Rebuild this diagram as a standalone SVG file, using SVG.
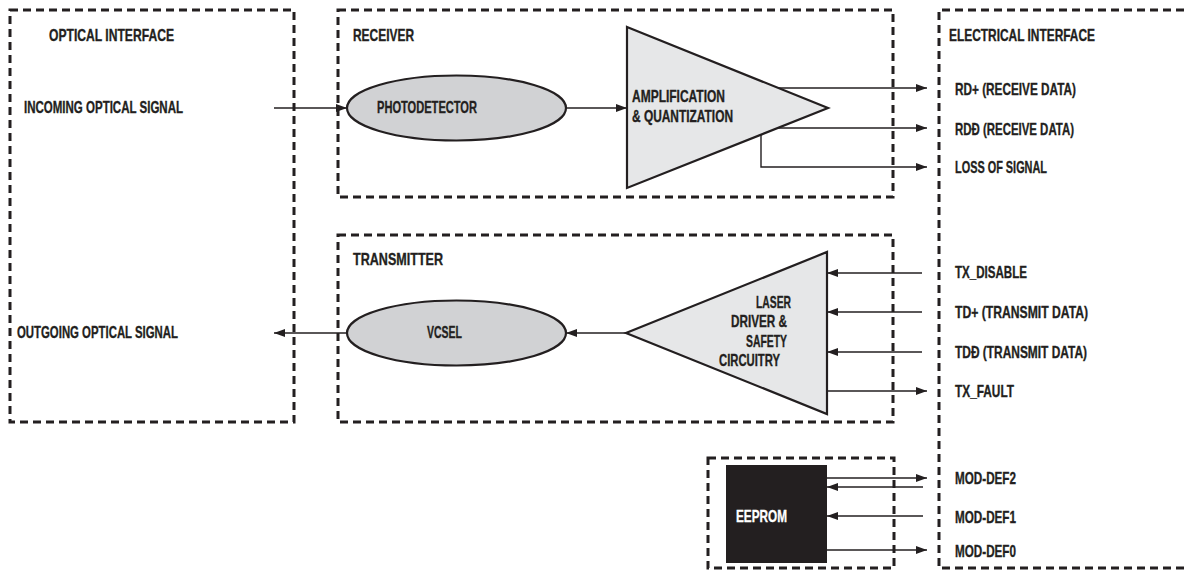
<svg xmlns="http://www.w3.org/2000/svg" width="1184" height="574" viewBox="0 0 1184 574">
<style>
.box{fill:none;stroke:#231f20;stroke-width:3;stroke-dasharray:8 5}
.shape{stroke:#231f20;stroke-width:2.2}
.ell{fill:#d1d2d4}
.tri{fill:#e6e7e8}
.ln{fill:none;stroke:#231f20;stroke-width:1.4}
.arr{marker-end:url(#ah)}
text{font-family:"Liberation Sans",Arial,sans-serif;font-weight:bold;font-size:16.5px;fill:#231f20;stroke:#231f20;stroke-width:0.35}
text.w{fill:#ffffff;stroke:#ffffff}
</style>
<defs>
<marker id="ah" markerUnits="userSpaceOnUse" markerWidth="11" markerHeight="8" refX="11" refY="4" orient="auto">
<path d="M0,0 L11,4 L0,8 z" fill="#231f20"/>
</marker>
</defs>
<rect width="1184" height="574" fill="#ffffff"/>

<g id="optical-interface">
<rect class="box" x="10" y="10" width="284" height="412"/>
<text x="49" y="41" textLength="125" lengthAdjust="spacingAndGlyphs">OPTICAL INTERFACE</text>
<text x="24" y="113" textLength="159" lengthAdjust="spacingAndGlyphs">INCOMING OPTICAL SIGNAL</text>
<text x="17" y="338" textLength="161" lengthAdjust="spacingAndGlyphs">OUTGOING OPTICAL SIGNAL</text>
</g>

<g id="receiver">
<rect class="box" x="338" y="10" width="555" height="187"/>
<text x="353" y="41" textLength="61" lengthAdjust="spacingAndGlyphs">RECEIVER</text>
</g>

<g id="photodetector">
<ellipse class="shape ell" cx="456.5" cy="108" rx="109.5" ry="32.5"/>
<text x="377" y="113" textLength="100" lengthAdjust="spacingAndGlyphs">PHOTODETECTOR</text>
</g>

<g id="amplification">
<polygon class="shape tri" points="627,27 828,108 627,188"/>
<text x="632" y="102" textLength="93" lengthAdjust="spacingAndGlyphs">AMPLIFICATION</text>
<text x="632" y="122" textLength="101" lengthAdjust="spacingAndGlyphs">&amp; QUANTIZATION</text>
</g>

<g id="transmitter">
<rect class="box" x="338" y="235" width="555" height="187"/>
<text x="353" y="265" textLength="90" lengthAdjust="spacingAndGlyphs">TRANSMITTER</text>
</g>

<g id="vcsel">
<ellipse class="shape ell" cx="456.5" cy="333" rx="109.5" ry="32.5"/>
<text x="427" y="338" textLength="35" lengthAdjust="spacingAndGlyphs">VCSEL</text>
</g>

<g id="laser-driver">
<polygon class="shape tri" points="827,252 827,414 626,333"/>
<text x="756" y="308" textLength="35" lengthAdjust="spacingAndGlyphs">LASER</text>
<text x="731" y="327" textLength="56" lengthAdjust="spacingAndGlyphs">DRIVER &amp;</text>
<text x="746" y="347" textLength="41" lengthAdjust="spacingAndGlyphs">SAFETY</text>
<text x="719" y="366" textLength="61" lengthAdjust="spacingAndGlyphs">CIRCUITRY</text>
</g>

<g id="eeprom-module">
<rect class="box" x="708" y="458" width="186" height="110"/>
</g>

<g id="eeprom">
<rect x="726" y="465" width="101" height="98" fill="#231f20"/>
<text class="w" x="736" y="522" textLength="51" lengthAdjust="spacingAndGlyphs">EEPROM</text>
</g>

<g id="electrical-interface">
<path class="box" d="M1184,10 H939 V568 H1184"/>
<text x="949" y="41" textLength="146" lengthAdjust="spacingAndGlyphs">ELECTRICAL INTERFACE</text>
<text x="955" y="95" textLength="121" lengthAdjust="spacingAndGlyphs">RD+ (RECEIVE DATA)</text>
<text x="955" y="135" textLength="119" lengthAdjust="spacingAndGlyphs">RDĐ (RECEIVE DATA)</text>
<text x="955" y="173" textLength="92" lengthAdjust="spacingAndGlyphs">LOSS OF SIGNAL</text>
<text x="955" y="278" textLength="72" lengthAdjust="spacingAndGlyphs">TX_DISABLE</text>
<text x="955" y="318" textLength="133" lengthAdjust="spacingAndGlyphs">TD+ (TRANSMIT DATA)</text>
<text x="955" y="358" textLength="132" lengthAdjust="spacingAndGlyphs">TDĐ (TRANSMIT DATA)</text>
<text x="955" y="397" textLength="59" lengthAdjust="spacingAndGlyphs">TX_FAULT</text>
<text x="955" y="484" textLength="61" lengthAdjust="spacingAndGlyphs">MOD-DEF2</text>
<text x="955" y="523" textLength="61" lengthAdjust="spacingAndGlyphs">MOD-DEF1</text>
<text x="955" y="557" textLength="61" lengthAdjust="spacingAndGlyphs">MOD-DEF0</text>
</g>

<g id="connectors">
<line class="ln arr" x1="274" y1="108" x2="347" y2="108"/>
<line class="ln arr" x1="566" y1="108" x2="627" y2="108"/>
<line class="ln arr" x1="778" y1="88" x2="927" y2="88"/>
<line class="ln arr" x1="778" y1="128" x2="927" y2="128"/>
<polyline class="ln arr" points="761,135 761,167 927,167"/>
<line class="ln arr" x1="626" y1="333" x2="566" y2="333"/>
<line class="ln arr" x1="347" y1="333" x2="274" y2="333"/>
<line class="ln arr" x1="922" y1="273" x2="827" y2="273"/>
<line class="ln arr" x1="922" y1="312" x2="827" y2="312"/>
<line class="ln arr" x1="922" y1="352" x2="827" y2="352"/>
<line class="ln arr" x1="827" y1="391" x2="927" y2="391"/>
<line class="ln arr" x1="827" y1="478" x2="927" y2="478"/>
<line class="ln arr" x1="923" y1="487" x2="827" y2="487"/>
<line class="ln arr" x1="923" y1="516" x2="827" y2="516"/>
<line class="ln arr" x1="827" y1="550" x2="927" y2="550"/>
</g>
</svg>
